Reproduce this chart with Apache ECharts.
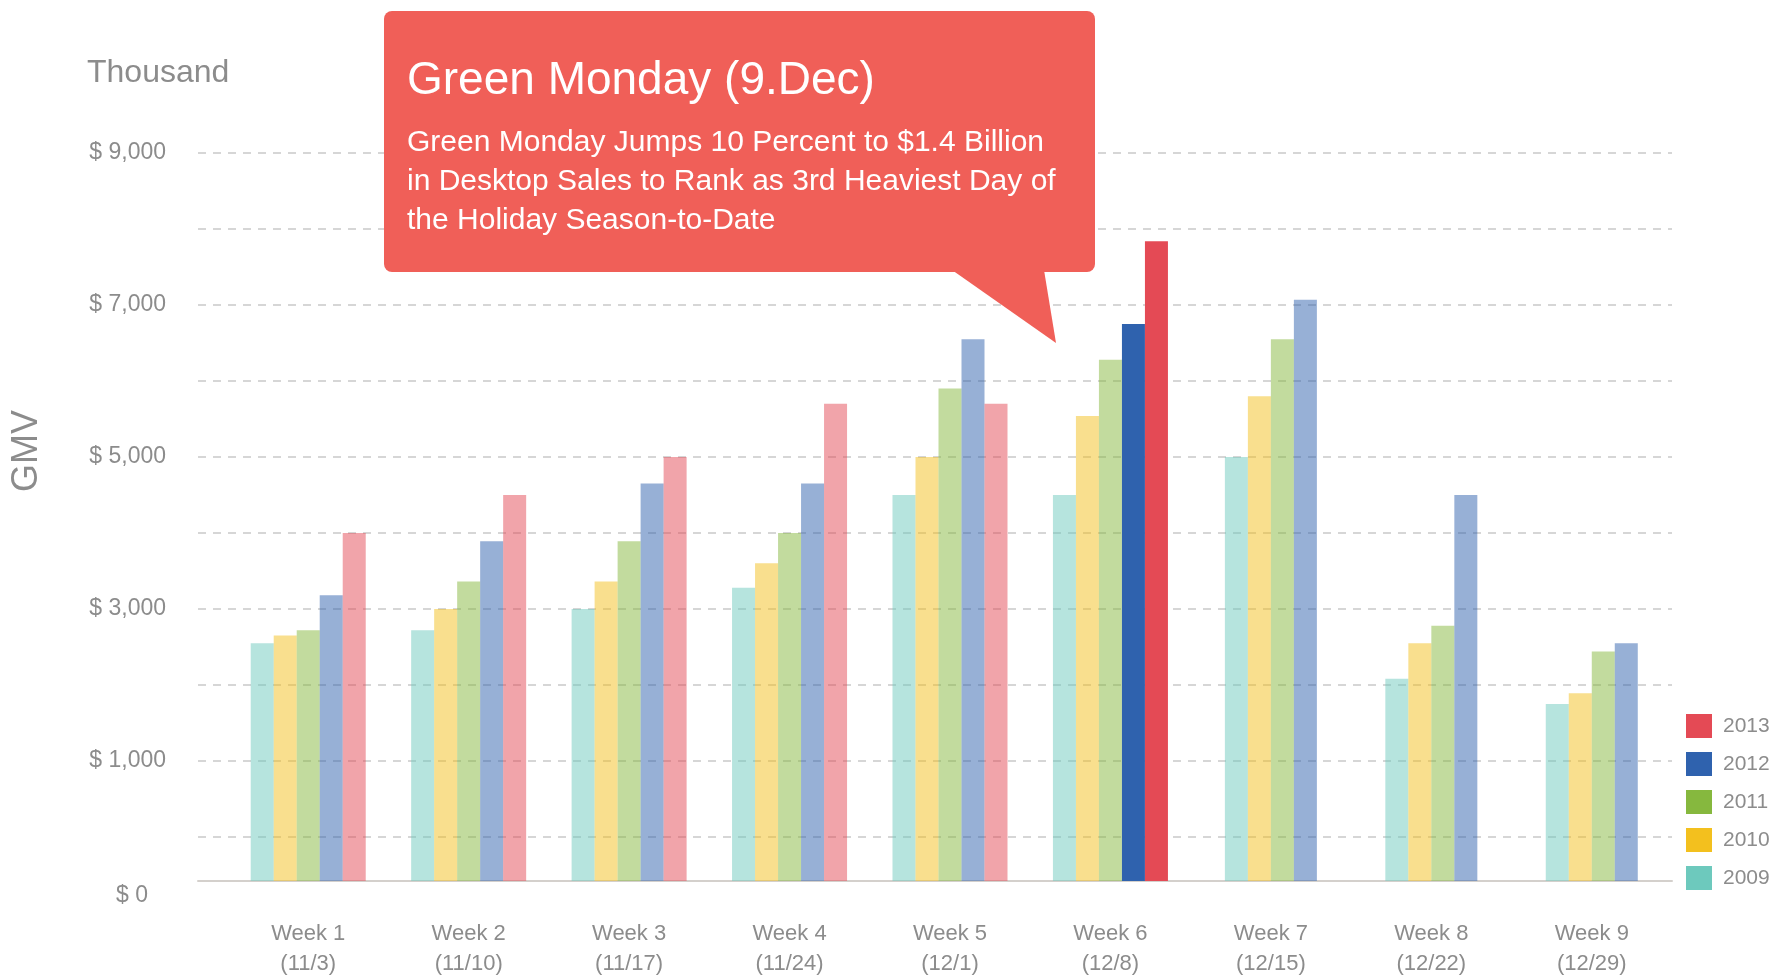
<!DOCTYPE html>
<html lang="en">
<head>
    <meta charset="UTF-8">
    <title>Green Monday GMV</title>
    <script src="https://cdn.jsdelivr.net/npm/echarts@6/dist/echarts.min.js"></script>
    <style>
        html, body { margin: 0; padding: 0; background: #fff; }
    </style>
</head>
<body>
<div id="main" style="width: 1777px;height:975px;"></div>
<script>
    // weekly GMV, thousand $
    var weeks = ['Week 1', 'Week 2', 'Week 3', 'Week 4', 'Week 5', 'Week 6', 'Week 7', 'Week 8', 'Week 9'];
    var weekDates = ['(11/3)', '(11/10)', '(11/17)', '(11/24)', '(12/1)', '(12/8)', '(12/15)', '(12/22)', '(12/29)'];
    var years = ['2009', '2010', '2011', '2012', '2013'];
    var gmv2009 = [2550, 2720, 3000, 3280, 4500, 4500, 5000, 2080, 1750];
    var gmv2010 = [2650, 3000, 3360, 3600, 5000, 5540, 5800, 2550, 1890];
    var gmv2011 = [2720, 3360, 3890, 4000, 5900, 6280, 6550, 2780, 2440];
    var gmv2012 = [3180, 3890, 4650, 4650, 6550, 6750, 7070, 4500, 2550];
    var gmv2013 = [4000, 4500, 5000, 5700, 5700, 7840, null, null, null];
    var yearColors = ['#6dc9bd', '#f3c01e', '#86b83e', '#2f62ae', '#e44a55'];
    var yLabelValues = [1000, 3000, 5000, 7000, 9000];
    var highlightWeek = 'Week 6';
    var highlightYears = ['2012', '2013'];

    var AXIS_MIN = -580;   // the baseline sits a bit below the $0 gridline
    var AXIS_MAX = 9000;
    var FONT = '"Liberation Sans", Arial, sans-serif';
    var GREY = '#8c8c8c';
    var CALLOUT = '#f05f58';

    var yearData = [gmv2009, gmv2010, gmv2011, gmv2012, gmv2013];
    var categories = weeks.map(function (w, i) { return w + '\n' + weekDates[i]; });

    var series = [];
    years.forEach(function (year, k) {
        var vals = yearData[k];
        // weeks with all five years go on one axis, the four-year weeks on another
        // so that their bars are centred in the category
        var full = [], partial = [];
        vals.forEach(function (v, i) {
            var item = v == null ? null : {value: v - AXIS_MIN};
            if (item && weeks[i] === highlightWeek && highlightYears.indexOf(year) >= 0) {
                item.itemStyle = {opacity: 1};
            }
            if (gmv2013[i] != null) {
                full.push(item); partial.push(null);
            } else {
                full.push(null); partial.push(item);
            }
        });
        var base = {
            name: year,
            type: 'bar',
            yAxisIndex: 1,
            barWidth: 23,
            barGap: '0%',
            itemStyle: {color: yearColors[k], opacity: 0.5},
            emphasis: {disabled: true}
        };
        series.push(Object.assign({}, base, {xAxisIndex: 1, data: full}));
        if (partial.some(function (d) { return d != null; })) {
            series.push(Object.assign({}, base, {xAxisIndex: 2, data: partial}));
        }
    });

    var myChart = echarts.init(document.getElementById('main'));
    var option = {
        animation: false,
        textStyle: {fontFamily: FONT},
        grid: [
            {left: 198, right: 105, top: 153, bottom: 94, containLabel: false, outerBoundsMode: 'none'},
            {left: 228, right: 105, top: 153, bottom: 94, containLabel: false, outerBoundsMode: 'none'}
        ],
        legend: {
            orient: 'vertical',
            left: 1681,
            top: 709,
            itemWidth: 26,
            itemHeight: 24,
            itemGap: 14,
            icon: 'rect',
            selectedMode: false,
            textStyle: {color: GREY, fontSize: 21, fontFamily: FONT, padding: [0, 0, 0, 6]},
            data: years.slice().reverse().map(function (y) {
                return {name: y, itemStyle: {color: yearColors[years.indexOf(y)], opacity: 1}};
            })
        },
        xAxis: [
            {
                gridIndex: 0, type: 'category', data: categories,
                axisLine: {show: true, onZero: false, lineStyle: {color: '#d4d0cc', width: 2}},
                axisTick: {show: false}, axisLabel: {show: false}, splitLine: {show: false}
            },
            {
                gridIndex: 1, type: 'category', data: categories,
                axisLine: {show: false}, axisTick: {show: false},
                axisLabel: {
                    interval: 0, margin: 38, color: GREY, fontSize: 22, lineHeight: 30, fontFamily: FONT
                }
            },
            {gridIndex: 1, type: 'category', data: categories, show: false}
        ],
        yAxis: [
            {
                gridIndex: 0, type: 'value', min: AXIS_MIN, max: AXIS_MAX,
                splitNumber: 10, minInterval: 1000, maxInterval: 1000,
                axisLine: {show: false}, axisTick: {show: false},
                splitLine: {show: true, lineStyle: {color: '#c9c9c9', width: 1.5, type: [8, 7]}},
                axisLabel: {
                    interval: 0, margin: 32, color: GREY, fontSize: 23, fontFamily: FONT,
                    showMinLabel: true, showMaxLabel: true,
                    formatter: function (v) {
                        if (v === AXIS_MIN) return '{z|$ 0}';
                        if (yLabelValues.indexOf(v) >= 0) return '$ ' + v.toLocaleString('en-US');
                        return '';
                    },
                    rich: {z: {color: GREY, fontSize: 23, fontFamily: FONT, padding: [30, 18, 0, 0]}}
                }
            },
            {gridIndex: 1, type: 'value', min: 0, max: AXIS_MAX - AXIS_MIN, show: false, splitLine: {show: false}}
        ],
        graphic: [
            {
                type: 'text', left: 87, top: 57,
                style: {text: 'Thousand', fill: GREY, font: '32px ' + FONT}
            },
            {
                type: 'text', x: 27, y: 451, rotation: Math.PI / 2,
                style: {text: 'GMV', fill: GREY, font: '36px ' + FONT, align: 'center', verticalAlign: 'middle'}
            },
            {
                type: 'rect', z: 100,
                shape: {x: 384, y: 11, width: 711, height: 261, r: 8},
                style: {fill: CALLOUT}
            },
            {
                type: 'polygon', z: 100,
                shape: {points: [[952, 270], [1044, 270], [1056, 343]]},
                style: {fill: CALLOUT}
            },
            {
                type: 'text', z: 101, x: 407, y: 81,
                style: {
                    text: 'Green Monday (9.Dec)', fill: '#fff', font: '46px ' + FONT,
                    verticalAlign: 'middle'
                }
            },
            {
                type: 'text', z: 101, x: 407, y: 123,
                style: {
                    text: 'Green Monday Jumps 10 Percent to $1.4 Billion\nin Desktop Sales to Rank as 3rd Heaviest Day of\nthe Holiday Season-to-Date',
                    fill: '#fff', font: '30px ' + FONT, lineHeight: 39, verticalAlign: 'top'
                }
            }
        ],
        series: series
    };
    myChart.setOption(option);
</script>
</body>
</html>
